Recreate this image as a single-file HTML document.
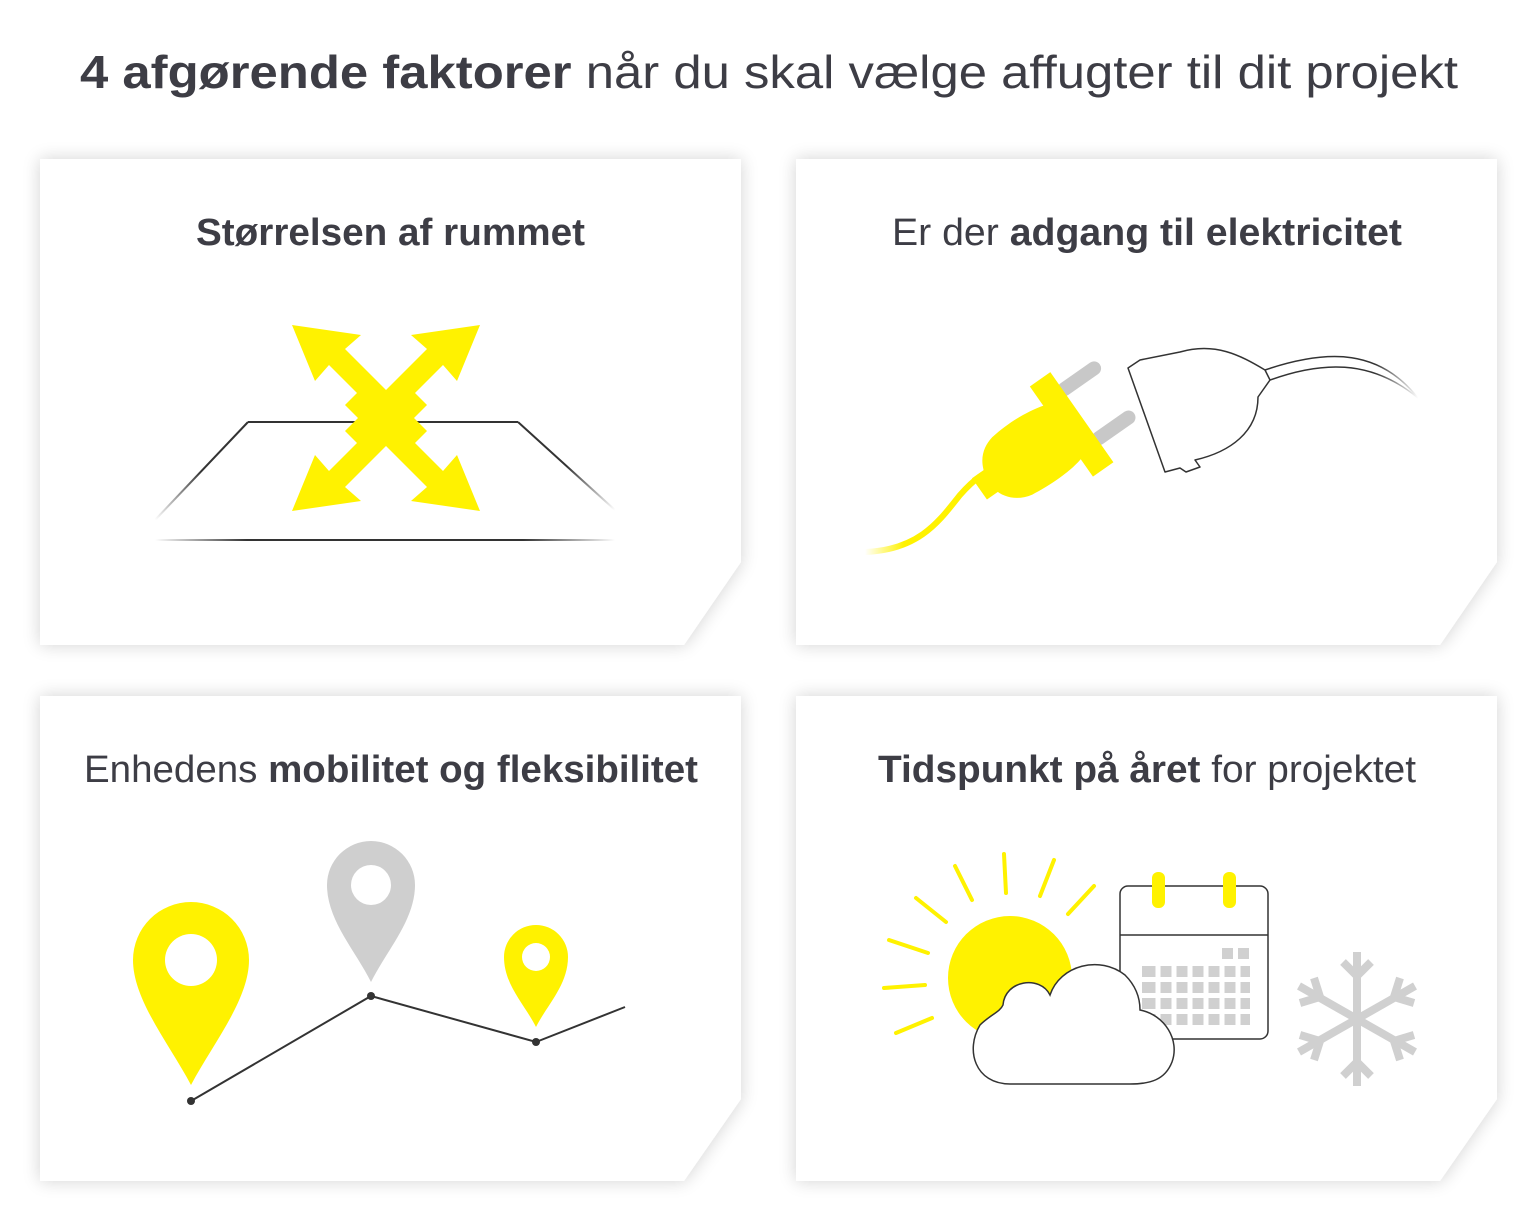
<!DOCTYPE html>
<html><head><meta charset="utf-8"><style>
body{margin:0;background:#fff;width:1534px;height:1223px;overflow:hidden}
svg{display:block}
text{font-family:"Liberation Sans",sans-serif;fill:#3d3d45}
</style></head><body>
<svg width="1534" height="1223" viewBox="0 0 1534 1223" xmlns="http://www.w3.org/2000/svg">
<defs>
<filter id="sh" x="-10%" y="-10%" width="120%" height="120%"><feGaussianBlur in="SourceAlpha" stdDeviation="9"/><feComponentTransfer><feFuncA type="linear" slope="0.18"/></feComponentTransfer><feMerge><feMergeNode/><feMergeNode in="SourceGraphic"/></feMerge></filter>
<linearGradient id="fl" gradientUnits="userSpaceOnUse" x1="155" y1="0" x2="615" y2="0"><stop offset="0" stop-color="#333" stop-opacity="0"/><stop offset=".2" stop-color="#333"/><stop offset=".8" stop-color="#333"/><stop offset="1" stop-color="#333" stop-opacity="0"/></linearGradient>
<linearGradient id="fll" gradientUnits="userSpaceOnUse" x1="248" y1="422" x2="155" y2="520"><stop offset="0" stop-color="#333"/><stop offset=".5" stop-color="#333"/><stop offset="1" stop-color="#333" stop-opacity="0"/></linearGradient>
<linearGradient id="flr" gradientUnits="userSpaceOnUse" x1="518" y1="422" x2="615" y2="510"><stop offset="0" stop-color="#333"/><stop offset=".5" stop-color="#333"/><stop offset="1" stop-color="#333" stop-opacity="0"/></linearGradient>
<linearGradient id="cy" gradientUnits="userSpaceOnUse" x1="865" y1="0" x2="995" y2="0"><stop offset="0" stop-color="#fff200" stop-opacity="0"/><stop offset=".3" stop-color="#fff200"/></linearGradient>
<linearGradient id="cw" gradientUnits="userSpaceOnUse" x1="1275" y1="0" x2="1418" y2="0"><stop offset="0" stop-color="#333"/><stop offset=".7" stop-color="#333"/><stop offset="1" stop-color="#333" stop-opacity="0"/></linearGradient>
</defs>
<text x="80" y="88" font-size="46" textLength="1378" lengthAdjust="spacingAndGlyphs"><tspan font-weight="bold">4 afgørende faktorer</tspan> når du skal vælge affugter til dit projekt</text>
<g filter="url(#sh)" fill="#fff">
<path d="M40 159H741V562L684 645H40Z"/>
<path d="M796 159H1497V562L1440 645H796Z"/>
<path d="M40 696H741V1099L684 1181H40Z"/>
<path d="M796 696H1497V1099L1440 1181H796Z"/>
</g>
<text x="196" y="245" font-size="38" font-weight="bold" textLength="389" lengthAdjust="spacingAndGlyphs">Størrelsen af rummet</text>
<text x="892" y="245" font-size="38" textLength="510" lengthAdjust="spacingAndGlyphs">Er der <tspan font-weight="bold">adgang til elektricitet</tspan></text>
<text x="84" y="782" font-size="38" textLength="614" lengthAdjust="spacingAndGlyphs">Enhedens <tspan font-weight="bold">mobilitet og fleksibilitet</tspan></text>
<text x="878" y="782" font-size="38" textLength="538" lengthAdjust="spacingAndGlyphs"><tspan font-weight="bold">Tidspunkt på året</tspan> for projektet</text>
<!-- floor -->
<line x1="248" y1="422" x2="155" y2="520" stroke="url(#fll)" stroke-width="2"/>
<line x1="518" y1="422" x2="615" y2="510" stroke="url(#flr)" stroke-width="2"/>
<line x1="248" y1="422" x2="518" y2="422" stroke="#333" stroke-width="2"/>
<line x1="155" y1="540" x2="615" y2="540" stroke="url(#fl)" stroke-width="2"/>
<!-- arrows -->
<g fill="#fff200">
<path d="M292 325L361 335L345 349L427 431L411 447L329 365L315 381Z"/>
<path d="M480 325L411 335L427 349L345 431L361 447L443 365L457 381Z"/>
<path d="M292 511L361 501L345 487L427 405L411 389L329 471L315 455Z"/>
<path d="M480 511L411 501L427 487L345 405L361 389L443 471L457 455Z"/>
</g>
<!-- plug -->
<path d="M865 552C920 550 940 520 960 495 975 478 985 472 995 470" fill="none" stroke="url(#cy)" stroke-width="6"/>
<g transform="translate(5 8) rotate(-35 1040 435)">
<rect x="1080" y="395" width="50" height="14" rx="7" fill="#c8c8c8"/>
<rect x="1080" y="455" width="50" height="14" rx="7" fill="#c8c8c8"/>
<path d="M1000 400C1040 395 1070 405 1075 410V460C1070 470 1040 475 1000 470C975 465 965 440 975 420C980 408 990 402 1000 400Z" fill="#fff200"/>
<rect x="1060" y="380" width="25" height="110" fill="#fff200"/>
<rect x="960" y="422" width="20" height="26" fill="#fff200"/>
</g>
<path d="M1128 368L1165 472 1180 468 1186 472 1200 467 1195 460C1230 452 1258 432 1258 397L1270 380 1265 370C1240 355 1215 342 1180 352L1140 360Z" fill="#fff" stroke="#333" stroke-width="1.5" stroke-linejoin="round"/>
<path d="M1270 380C1320 362 1370 358 1418 398M1265 370C1330 348 1380 350 1418 398" fill="none" stroke="url(#cw)" stroke-width="1.5"/>
<!-- map -->
<polyline points="191,1101 371,996 536,1042 625,1007" fill="none" stroke="#333" stroke-width="2"/>
<circle cx="191" cy="1101" r="4" fill="#333"/><circle cx="371" cy="996" r="4" fill="#333"/><circle cx="536" cy="1042" r="4" fill="#333"/>
<path d="M191 1085C170 1045 133 1000 133 960A58 58 0 0 1 249 960C249 1000 212 1045 191 1085Z" fill="#fff200"/>
<circle cx="191" cy="960" r="26" fill="#fff"/>
<path d="M371 982C355 950 327 920 327 885A44 44 0 0 1 415 885C415 920 387 950 371 982Z" fill="#cfcfcf"/>
<circle cx="371" cy="885" r="20" fill="#fff"/>
<path d="M536 1027C525 1005 504 985 504 957A32 32 0 0 1 568 957C568 985 547 1005 536 1027Z" fill="#fff200"/>
<circle cx="536" cy="957" r="14" fill="#fff"/>
<!-- sun -->
<g stroke="#fff200" stroke-width="4" stroke-linecap="round">
<line x1="1004" y1="854" x2="1006" y2="893"/><line x1="955" y1="866" x2="972" y2="900"/><line x1="1054" y1="860" x2="1040" y2="896"/>
<line x1="916" y1="898" x2="946" y2="922"/><line x1="1094" y1="886" x2="1068" y2="914"/><line x1="889" y1="940" x2="928" y2="953"/>
<line x1="884" y1="988" x2="925" y2="985"/><line x1="896" y1="1033" x2="932" y2="1018"/>
</g>
<circle cx="1010" cy="978" r="62" fill="#fff200"/>
<!-- calendar -->
<rect x="1120" y="886" width="148" height="153" rx="8" fill="#fff" stroke="#333" stroke-width="1.5"/>
<line x1="1120" y1="935" x2="1268" y2="935" stroke="#333" stroke-width="1.5"/>
<rect x="1152" y="872" width="13" height="36" rx="6" fill="#fff200"/><rect x="1223" y="872" width="13" height="36" rx="6" fill="#fff200"/>
<g fill="#d0d0d0">
<rect x="1222" y="948" width="11" height="11"/><rect x="1238" y="948" width="11" height="11"/>
</g>
<g fill="#d0d0d0">
<rect x="1142" y="966" width="108" height="11"/><rect x="1142" y="982" width="108" height="11"/><rect x="1142" y="998" width="108" height="11"/><rect x="1142" y="1014" width="108" height="11"/>
</g>
<g stroke="#fff" stroke-width="5"><line x1="1158" y1="960" x2="1158" y2="1030"/><line x1="1174" y1="960" x2="1174" y2="1030"/><line x1="1190" y1="960" x2="1190" y2="1030"/><line x1="1206" y1="960" x2="1206" y2="1030"/><line x1="1222" y1="960" x2="1222" y2="1030"/><line x1="1238" y1="960" x2="1238" y2="1030"/></g>
<!-- cloud -->
<path d="M1010 1084C975 1084 965 1050 980 1025 990 1015 1000 1012 1003 1005 1005 980 1040 975 1050 995 1060 965 1100 955 1125 975 1140 990 1140 1005 1140 1010 1165 1015 1180 1040 1172 1062 1165 1080 1150 1084 1130 1084Z" fill="#fff" stroke="#333" stroke-width="1.5"/>
<!-- snowflake -->
<g stroke="#d0d0d0" stroke-width="8" fill="none">
<line x1="1357" y1="952" x2="1357" y2="1086"/><line x1="1299" y1="986" x2="1415" y2="1052"/><line x1="1299" y1="1052" x2="1415" y2="986"/>
<polyline points="1343,962 1357,976 1371,962"/><polyline points="1343,1076 1357,1062 1371,1076"/>
<polyline points="1300,1003 1320,997 1314,978"/><polyline points="1414,1035 1394,1041 1400,1060"/>
<polyline points="1300,1035 1320,1041 1314,1060"/><polyline points="1414,1003 1394,997 1400,978"/>
</g>
</svg>
</body></html>
